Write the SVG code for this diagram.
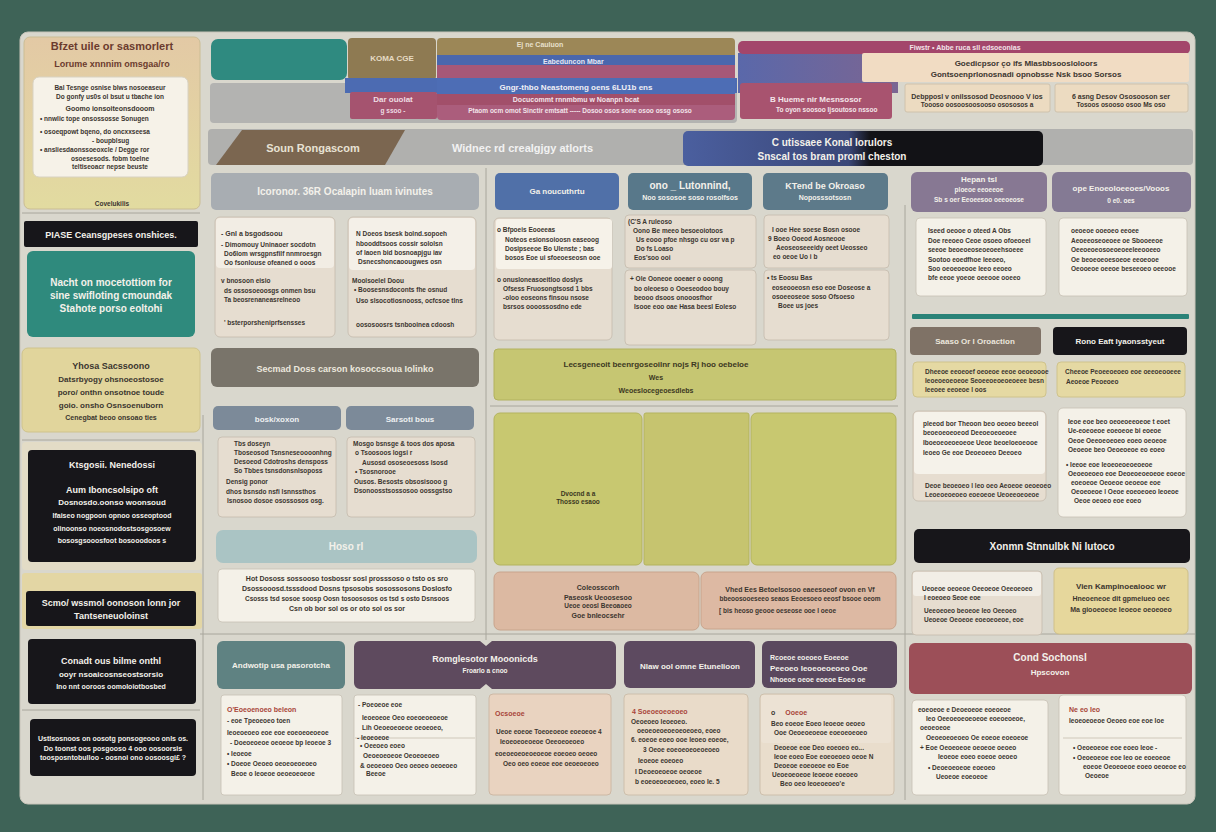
<svg xmlns="http://www.w3.org/2000/svg" width="1216" height="832" viewBox="0 0 1216 832">
<defs>
<style>
.tx{font-family:"Liberation Sans",Arial,sans-serif;font-weight:bold}
.d{fill:#3b352f}.w{fill:#f3f1ea}.r{fill:#a8453a}.y{fill:#3c3822}
.c{text-anchor:middle}
.s6{font-size:6.5px}.s7{font-size:7px}.s8{font-size:8px}.s9{font-size:9px}.s10{font-size:10px}.s11{font-size:11px}
.card{fill:#e6ddd0;stroke:#c4baac;stroke-width:0.8}
.wcard{fill:#f4f1e8;stroke:#c6c0b4;stroke-width:0.8}
.blk{fill:#17161a}
.div{stroke:#a8a69c;stroke-width:1;fill:none}
</style>
<linearGradient id="gTan" x1="0" y1="0" x2="0" y2="1"><stop offset="0" stop-color="#e3c9a5"/><stop offset="1" stop-color="#e2dba0"/></linearGradient>
<linearGradient id="gBlk" x1="0" y1="0" x2="1" y2="0"><stop offset="0" stop-color="#4b5f9f"/><stop offset="0.46" stop-color="#3a4778"/><stop offset="0.52" stop-color="#121216"/><stop offset="1" stop-color="#121216"/></linearGradient>
<linearGradient id="gBlue" x1="0" y1="0" x2="1" y2="0"><stop offset="0" stop-color="#5a68aa"/><stop offset="1" stop-color="#7b6592"/></linearGradient>
<clipPath id="cpStripe"><rect x="437" y="38" width="298" height="82" rx="4"/></clipPath>
</defs>
<rect width="1216" height="832" fill="#3e6357"/>
<rect x="20" y="32" width="1175" height="772" rx="8" fill="#d9d7cd" stroke="#c7c4b9"/>

<g id="connectors">
<line class="div" x1="203" y1="415" x2="203" y2="800"/>
<line class="div" x1="486" y1="168" x2="486" y2="640"/>
<line class="div" x1="905" y1="205" x2="905" y2="800"/>
<line class="div" x1="200" y1="634" x2="1195" y2="634"/>
<line class="div" x1="22" y1="213" x2="200" y2="213"/>
<line class="div" x1="22" y1="440" x2="200" y2="440"/>
<line class="div" x1="22" y1="710" x2="200" y2="710"/>
<line class="div" x1="490" y1="406" x2="898" y2="406"/>
</g>

<!-- Left column -->
<g id="n-intro">
<rect x="24" y="37" width="176" height="172" rx="6" fill="url(#gTan)" stroke="#cbbd94"/>
<text class="tx c s11" x="112" y="50" fill="#6b3b2e">Bfzet uile or sasmorlert</text>
<text class="tx c s9" x="112" y="67" fill="#6b3b2e">Lorume xnnnim omsgaa/ro</text>
<rect x="33" y="77" width="155" height="100" rx="6" fill="#f6f2e8" stroke="#d8d2c2"/>
<text class="tx c s6 d" x="110" y="90">Bal Tesnge osnise blws nosoeaseur</text>
<text class="tx c s6 d" x="110" y="99">Do gonfy us0s ol bsut u tbache ion</text>
<text class="tx c s7 d" x="110" y="111">Goomo ionsoiteonsdooom</text>
<text class="tx s6 d" x="40" y="121">• nnwlic tope onsossosse Sonugen</text>
<text class="tx s6 d" x="40" y="134">• osoeqpowt bqeno, do oncxxseesa</text>
<text class="tx s6 d" x="92" y="143">- boupblsug</text>
<text class="tx s6 d" x="40" y="152">• ansliesdaonssoeoxcle / Degge ror</text>
<text class="tx c s6 d" x="110" y="161">osoesesods. fobm toelne</text>
<text class="tx c s6 d" x="110" y="169">teltiseoacr nepse beuste</text>
<text class="tx c s6 d" x="112" y="206">Covelukilis</text>
</g>
<g id="n-black-bar">
<rect x="24" y="221" width="174" height="26" rx="2" class="blk"/>
<text class="tx c s9 w" x="111" y="238">PIASE Ceansgpeses onshices.</text>
</g>
<g id="n-teal">
<rect x="27" y="251" width="168" height="86" rx="6" fill="#2f8a7d"/>
<text class="tx c s10 w" x="111" y="286">Nacht on mocetottiom for</text>
<text class="tx c s10 w" x="111" y="299">sine swifloting cmoundak</text>
<text class="tx c s10 w" x="111" y="312">Stahote porso eoltohi</text>
</g>
<g id="n-yellow-left">
<rect x="22" y="348" width="178" height="84" rx="6" fill="#e1d59c" stroke="#cfc38c"/>
<text class="tx c s9 d" x="111" y="369">Yhosa Sacssoono</text>
<text class="tx c s8 d" x="111" y="382">Datsrbyogy ohsnoeostosoe</text>
<text class="tx c s8 d" x="111" y="395">poro/ onthn onsotnoe toude</text>
<text class="tx c s8 d" x="111" y="408">goio. onsho Osnsoenuborn</text>
<text class="tx c s7 d" x="111" y="420">Cenegbat  beoo onsoao ties</text>
</g>
<g id="n-black-1">
<rect x="22" y="442" width="180" height="128" rx="4" fill="#e3dcc6"/>
<rect x="28" y="450" width="168" height="112" rx="4" class="blk"/>
<text class="tx c s9 w" x="112" y="468">Ktsgosii. Nenedossi</text>
<text class="tx c s9 w" x="112" y="493">Aum Iboncsolsipo oft</text>
<text class="tx c s8 w" x="112" y="505">Dosnosdo.oonso  woonsoud</text>
<text class="tx c s7 w" x="112" y="518">Ifaiseo nogpoon opnoo osseoptood</text>
<text class="tx c s7 w" x="112" y="531">olinoonso noeosnodostsosgosoew</text>
<text class="tx c s7 w" x="112" y="543">bososgsooosfoot  bosooodoos s</text>
</g>
<g id="n-black-2">
<rect x="22" y="573" width="180" height="56" rx="3" fill="#e3d6a4"/>
<rect x="26" y="591" width="170" height="35" rx="3" class="blk"/>
<text class="tx c s9 w" x="111" y="606">Scmo/ wssmol oonoson lonn jor</text>
<text class="tx c s9 w" x="111" y="619">Tantseneuoloinst</text>
</g>
<g id="n-black-3">
<rect x="28" y="639" width="168" height="65" rx="4" class="blk"/>
<text class="tx c s9 w" x="111" y="664">Conadt ous bilme onthl</text>
<text class="tx c s8 w" x="111" y="677">ooyr nsoaicosnseostsorsio</text>
<text class="tx c s7 w" x="111" y="689">Ino nnt  ooroos  oomoloiotbosbed</text>
</g>
<g id="n-black-4">
<rect x="30" y="719" width="166" height="57" rx="4" class="blk"/>
<text class="tx c s7 w" x="113" y="741">Ustlsosnoos on oosotg ponsogeooo onls os.</text>
<text class="tx c s7 w" x="113" y="751">Do toonst oos posgooso 4 ooo oosoorsis</text>
<text class="tx c s7 w" x="113" y="760">toosposntobulloo - oosnoi ono oosoosgi£ ?</text>
</g>

<!-- Top row -->
<g id="n-top-band">
<rect x="210" y="83" width="527" height="40" rx="4" fill="#b3b3b1"/>
<rect x="211" y="39" width="136" height="41" rx="7" fill="#2f8a80"/>
</g>
<g id="n-top-olive">
<rect x="348" y="38" width="88" height="42" rx="4" fill="#8e7a52"/>
<text class="tx c s8" x="392" y="61" fill="#e6dcc4">KOMA CGE</text>
</g>
<g id="n-stripes">
<rect x="345" y="78" width="392" height="15" fill="#4c6bb2"/>
<rect x="350" y="92" width="87" height="27" rx="2" fill="#a5536f"/>
<text class="tx c s8" x="393" y="102" fill="#eedde3">Dar ouolat</text>
<text class="tx c s6" x="393" y="113" fill="#eedde3">g  ssoo  -</text>
<g clip-path="url(#cpStripe)">
<rect x="437" y="38" width="298" height="17" fill="#9c8757"/>
<rect x="437" y="55" width="298" height="10" fill="#4a67ad"/>
<rect x="437" y="65" width="298" height="13" fill="#a65878"/>
<rect x="437" y="78" width="298" height="16" fill="#4d6db5"/>
<rect x="437" y="94" width="298" height="11" fill="#a24f6a"/>
<rect x="437" y="105" width="298" height="15" fill="#ab5d7c"/>
</g>
<text class="tx c s7" x="540" y="47" fill="#e8e0cc">Ej ne Cauluon</text>
<text class="tx s7" x="543" y="64" fill="#e4e6f4">Eabeduncon        Mbar</text>
<text class="tx c s8" x="576" y="90" fill="#f0f0f6">Gngr-thbo Neastomeng oens 6LU1b ens</text>
<text class="tx c s7" x="576" y="102" fill="#f2e4ea">Docucommt rnnmbmu w Noanpn bcat</text>
<text class="tx c s6" x="580" y="113" fill="#f2e4ea">Ptaom ocm omot Sinctir emtsatt ----- Dosoo osos sone osoo ossg ososo</text>
</g>
<g id="n-top-right">
<rect x="738" y="53" width="160" height="40" fill="url(#gBlue)"/>
<rect x="738" y="41" width="452" height="13" rx="5" fill="#a3466b"/>
<text class="tx c s7" x="965" y="50" fill="#f2e2e8">Fiwstr  •  Abbe ruca sll edsoeonias</text>
<rect x="862" y="53" width="327" height="29" rx="2" fill="#f1dcc3"/>
<text class="tx c s8 d" x="1026" y="66">Goedicpsor  ço  ifs  Mlasbbsoosloloors</text>
<text class="tx c s8 d" x="1026" y="77">Gontsoenprlonosnadi opnobsse  Nsk  bsoo Sorsos</text>
<rect x="740" y="83" width="152" height="36" rx="3" fill="#a8536f"/>
<text class="tx s8" x="770" y="102" fill="#f4e6ea">B  Hueme nir  Mesnsosor</text>
<text class="tx s6" x="776" y="112" fill="#f4e6ea">To oyon soosoo  Ijsoutoso nssoo</text>
<rect x="905" y="84" width="145" height="28" rx="2" fill="#ecdbc1" stroke="#cfc2ac"/>
<text class="tx c s7 d" x="977" y="99">Debpposl v onilssosod  Deosnooo V ios</text>
<text class="tx c s6 d" x="977" y="107">Toooso oosoosoosooso osososos a</text>
<rect x="1055" y="84" width="133" height="28" rx="2" fill="#ecdbc1" stroke="#cfc2ac"/>
<text class="tx c s7 d" x="1121" y="99">6  asng Desov Ososooson ser</text>
<text class="tx c s6 d" x="1121" y="107">Tosoos osooso osoo  Ms oso</text>
</g>

<!-- Row 2 -->
<g id="n-row2">
<rect x="208" y="129" width="985" height="36" rx="4" fill="#b0b0ae"/>
<polygon points="216,165 242,130 405,130 385,165" fill="#7b6650"/>
<text class="tx c s11" x="313" y="152" fill="#e8e2d4">Soun Rongascom</text>
<text class="tx s11" x="452" y="152" fill="#f2f2f2">Widnec rd crealgjgy atlorts</text>
</g>
<g id="n-dark-banner">
<rect x="683" y="131" width="360" height="35" rx="5" fill="url(#gBlk)"/>
<text class="tx c s10 w" x="832" y="146">C utissaee Konal lorulors</text>
<text class="tx c s10 w" x="832" y="160">Snscal tos bram proml cheston</text>
</g>

<!-- Left middle section -->
<g id="n-lm-header">
<rect x="211" y="173" width="268" height="37" rx="5" fill="#a8adb2"/>
<text class="tx c s10 w" x="345" y="195">Icoronor. 36R Ocalapin luam ivinutes</text>
</g>
<g id="n-lm-card1">
<rect x="215" y="217" width="120" height="120" rx="5" class="card"/>
<rect x="216" y="218" width="118" height="50" rx="4" fill="#f2ede4"/>
<text class="tx s7 d" x="221" y="236">- Gnl a bsgodsoou</text>
<text class="tx s6 d" x="221" y="247">- Dimomouy Uninaoer socdotn</text>
<text class="tx s6 d" x="224" y="256">Do6lom wrsgpnsfilf nnmroesgn</text>
<text class="tx s6 d" x="224" y="265">Oo fsonlouse ofeaned o ooos</text>
<text class="tx s6 d" x="221" y="283">v  bnosoon eisio</text>
<text class="tx s6 d" x="224" y="293">ds ossosoeoosgs onmen bsu</text>
<text class="tx s6 d" x="224" y="302">Ta beosrenaneasrelneoo</text>
<text class="tx s6 d" x="224" y="325">' bsterporsheniprfsensses</text>
</g>
<g id="n-lm-card2">
<rect x="348" y="217" width="128" height="120" rx="5" class="card"/>
<rect x="349" y="218" width="126" height="52" rx="4" fill="#f4f0e8"/>
<text class="tx s6 d" x="356" y="236">N Doeos bsesk bolnd.sopoeh</text>
<text class="tx s6 d" x="356" y="246">hbooddtsoos cossir sololsn</text>
<text class="tx s6 d" x="356" y="255">of laoen bid bosnoapjgu iav</text>
<text class="tx s6 d" x="358" y="264">Dsnecshoncaoougwes osn</text>
<text class="tx s6 d" x="352" y="283">Moolsoelel Doou</text>
<text class="tx s6 d" x="354" y="292">• Boosesnsdoconts fhe osnud</text>
<text class="tx s6 d" x="356" y="303">Uso slsocotiosnooss, ocfcsoe tlns</text>
<text class="tx s6 d" x="356" y="327">oososoosrs tsnbooinea cdoosh</text>
</g>
<g id="n-lm-header2">
<rect x="211" y="348" width="268" height="39" rx="6" fill="#79746a"/>
<text class="tx c s9" x="345" y="372" fill="#ece8de">Secmad Doss carson kosoccsoua Iolinko</text>
</g>
<g id="n-lm-sub1">
<rect x="213" y="406" width="128" height="24" rx="5" fill="#7c8a99"/>
<text class="tx c s8" x="277" y="422" fill="#eef0f2">bosk/xoxon</text>
</g>
<g id="n-lm-sub2">
<rect x="346" y="406" width="128" height="24" rx="5" fill="#7c8a99"/>
<text class="tx c s8" x="410" y="422" fill="#eef0f2">Sarsoti bous</text>
</g>
<g id="n-lm-card3">
<rect x="218" y="437" width="118" height="80" rx="4" class="card"/>
<text class="tx s6 d" x="234" y="446">Tbs doseyn</text>
<text class="tx s6 d" x="234" y="455">Tboseosod Tsnsneseoooonhng</text>
<text class="tx s6 d" x="234" y="464">Desoeod Cdotroshs densposs</text>
<text class="tx s6 d" x="234" y="473">So Tbbes tsnsdonsnlsoposs</text>
<text class="tx s6 d" x="226" y="484">Densig ponor</text>
<text class="tx s6 d" x="226" y="494">dhos  bsnsdo nsfi lsnnssthos</text>
<text class="tx s6 d" x="227" y="503">Isnosoo dosoe osossosos osg.</text>
</g>
<g id="n-lm-card4">
<rect x="347" y="437" width="128" height="80" rx="4" class="card"/>
<text class="tx s6 d" x="353" y="446">Mosgo bsnsge &amp; toos dos aposa</text>
<text class="tx s6 d" x="355" y="455">o  Tsoosoos logsi r</text>
<text class="tx s6 d" x="362" y="465">Ausosd ososeoesoss Isosd</text>
<text class="tx s6 d" x="355" y="474">•  Tsosnorooe</text>
<text class="tx s6 d" x="354" y="484">Ousos. Besosts obsosisooo g</text>
<text class="tx s6 d" x="354" y="493">Dsonoosstsossosoo oossgstso</text>
</g>
<g id="n-lm-header3">
<rect x="216" y="530" width="261" height="33" rx="7" fill="#aac4c4"/>
<text class="tx c s10 w" x="346" y="550">Hoso rl</text>
</g>
<g id="n-lm-card5">
<rect x="218" y="569" width="257" height="53" rx="4" class="wcard"/>
<text class="tx c s7 d" x="347" y="581">Hot  Dososs sossooso tosbossr sosl prosssoso o tsto os  sro</text>
<text class="tx c s7 d" x="347" y="591">Dsossooosd.tsssdood   Dosns tpsosobs sosossosons Doslosfo</text>
<text class="tx c s6 d" x="347" y="601">Csosss tsd sosoe soosp  Oosn tosoososos os tsd  s osto  Dsnsoos</text>
<text class="tx c s7 d" x="347" y="611">Csn ob bor sol os or oto  sol  os sor</text>
</g>

<!-- Middle section -->
<g id="n-m-h1">
<rect x="495" y="173" width="124" height="37" rx="5" fill="#5070a8"/>
<text class="tx c s8 w" x="557" y="194">Ga noucuthrtu</text>
</g>
<g id="n-m-h2">
<rect x="628" y="173" width="124" height="37" rx="5" fill="#58788a"/>
<text class="tx c s10 w" x="690" y="189">ono _ Lutonnind,</text>
<text class="tx c s7 w" x="690" y="200">Noo sososoe soso rosolfsos</text>
</g>
<g id="n-m-h3">
<rect x="763" y="173" width="125" height="37" rx="5" fill="#5d7a8a"/>
<text class="tx c s9 w" x="825" y="189">KTend  be  Okroaso</text>
<text class="tx c s7 w" x="825" y="200">Noposssotsosn</text>
</g>
<g id="n-m-card1">
<rect x="494" y="218" width="118" height="122" rx="5" class="card"/>
<rect x="496" y="219" width="116" height="50" rx="3" fill="#f6f2e9"/>
<text class="tx s6 d" x="497" y="232">o  Bfpoeis Eooeeas</text>
<text class="tx s6 d" x="505" y="242">Noteos esionsoioosn easeoog</text>
<text class="tx s6 d" x="505" y="251">Dosipseeoe  Bo Ulenste ; bas</text>
<text class="tx s6 d" x="505" y="260">bosos Eoe ui sfoeoeseosn ooe</text>
<text class="tx s6 d" x="497" y="282">o  onusloneasoeitloo doslys</text>
<text class="tx s6 d" x="503" y="291">Ofsess Fruosongtsosd 1 bbs</text>
<text class="tx s6 d" x="503" y="300">-oloo eoseons finsou nsose</text>
<text class="tx s6 d" x="503" y="309">bsrsos oooossosdno ede</text>
</g>
<g id="n-m-card2">
<rect x="625" y="215" width="131" height="53" rx="4" class="card"/>
<rect x="625" y="270" width="131" height="75" rx="4" class="card"/>
<text class="tx s6 d" x="628" y="224">(C'S  A  ruleoso</text>
<text class="tx s6 d" x="633" y="233">Oono Be meeo besoeoiotoos</text>
<text class="tx s6 d" x="636" y="242">Us eooo pfoe nhsgo cu osr va p</text>
<text class="tx s6 d" x="636" y="251">Do fs Loaso</text>
<text class="tx s6 d" x="634" y="260">Eos'soo ooi</text>
<text class="tx s6 d" x="630" y="281">+ Ole Ooneoe ooeaer o ooong</text>
<text class="tx s6 d" x="634" y="291">bo oleoeso o Ooeseodoo bouy</text>
<text class="tx s6 d" x="634" y="300">beooo dsoos onooosfhor</text>
<text class="tx s6 d" x="634" y="309">Isooe eoo oae Hasa beesl Eoleso</text>
</g>
<g id="n-m-card3">
<rect x="764" y="215" width="125" height="53" rx="4" class="card"/>
<rect x="764" y="270" width="125" height="70" rx="4" class="card"/>
<text class="tx s6 d" x="772" y="232">I ooe Hee soese Bosn osooe</text>
<text class="tx s6 d" x="768" y="241">9  Boeo Ooeod Aosneooe</text>
<text class="tx s6 d" x="776" y="250">Aeoseoseeeidy oeet Ueosseo</text>
<text class="tx s6 d" x="773" y="259">eo oeoe Uo i b</text>
<text class="tx s6 d" x="767" y="280">•  ts Eoosu   Bas</text>
<text class="tx s6 d" x="772" y="290">eoseooeosn eso eoe Doseose a</text>
<text class="tx s6 d" x="772" y="299">osoeeoseoe soso Ofsoeso</text>
<text class="tx s6 d" x="778" y="308">Boee us joes</text>
</g>
<g id="n-m-banner">
<rect x="494" y="349" width="402" height="51" rx="4" fill="#c6c672" stroke="#b2b25e"/>
<text class="tx c s8 y" x="656" y="367">Lecsgeneoit  beenrgoseoilnr nojs Rj hoo oebeloe</text>
<text class="tx c s7 y" x="656" y="380">Wes</text>
<text class="tx c s7 y" x="656" y="393">Weoeslocegeoesdlebs</text>
</g>
<g id="n-m-green">
<rect x="494" y="413" width="148" height="152" rx="6" fill="#c8c870" stroke="#b3b35e"/>
<rect x="644" y="413" width="105" height="152" rx="2" fill="#c6c46f" stroke="#b3b35e"/>
<rect x="751" y="413" width="145" height="152" rx="6" fill="#c8c870" stroke="#b3b35e"/>
<text class="tx c s6 y" x="578" y="496">Dvocnd a a</text>
<text class="tx c s6 y" x="578" y="504">Thosso esaoo</text>
</g>
<g id="n-m-peach1">
<rect x="494" y="572" width="205" height="58" rx="6" fill="#dcb9a2" stroke="#c8a48c"/>
<text class="tx c s7 d" x="598" y="590">Coleosscorh</text>
<text class="tx c s7 d" x="598" y="600">Paseosk  Ueoosesoo</text>
<text class="tx c s6 d" x="598" y="608">Ueoe oeosl  Beeoaoeo</text>
<text class="tx c s7 d" x="598" y="618">Goe bnIeocsehr</text>
</g>
<g id="n-m-peach2">
<rect x="701" y="572" width="195" height="57" rx="6" fill="#ddb9a3" stroke="#c8a48c"/>
<text class="tx c s7 d" x="800" y="592">Vhed  Ees Betoelsosoo eaeesoeof ovon en  Vf</text>
<text class="tx c s6 d" x="800" y="601">bbeoosooeseeo seaos Eeoesoeo  eeosf bsooe oeom</text>
<text class="tx s6 d" x="719" y="613">[  bis heoso geooe oeseose ooe I oeoe</text>
</g>

<!-- Right section -->
<g id="n-r-h1">
<rect x="911" y="172" width="136" height="40" rx="6" fill="#877893"/>
<text class="tx c s8 w" x="979" y="182">Hepan tsl</text>
<text class="tx c s6 w" x="979" y="192">ploeoe eeoeeoe</text>
<text class="tx c s6 w" x="979" y="202">Sb s oer Eeoeesoo oeeoeose</text>
</g>
<g id="n-r-h2">
<rect x="1052" y="172" width="139" height="40" rx="6" fill="#847a94"/>
<text class="tx c s8 w" x="1121" y="191">ope Enoeoloeeoes/Vooos</text>
<text class="tx c s6 w" x="1121" y="203">0 e0.  oes</text>
</g>
<g id="n-r-card1">
<rect x="916" y="218" width="130" height="78" rx="4" class="wcard"/>
<text class="tx s6 d" x="928" y="233">Iseed  oeooe o oteed  A Obs</text>
<text class="tx s6 d" x="928" y="243">Doe reeoeo Ceoe osoeo ofoeoeel</text>
<text class="tx s6 d" x="928" y="252">seeoe  beoeoeoseoeoeehsoeee</text>
<text class="tx s6 d" x="928" y="262">Sootoo eoedfhoe Ieeoeo,</text>
<text class="tx s6 d" x="928" y="271">Soo oeoeoeooe  Ieeo  eeoeo</text>
<text class="tx s6 d" x="928" y="280">bfe eeoe yoeoe oeeooe ooeeo</text>
</g>
<g id="n-r-card2">
<rect x="1059" y="218" width="128" height="78" rx="4" class="wcard"/>
<text class="tx s6 d" x="1071" y="233">oeoeoe ooeoeo eeoee</text>
<text class="tx s6 d" x="1071" y="243">Aeoeeoseoeoee oe Sbooeeoe</text>
<text class="tx s6 d" x="1071" y="252">Oeeoeoeosoeoeoeeleeooeeo</text>
<text class="tx s6 d" x="1071" y="262">Oe  beoeoeoesoeoe  eeoeooe</text>
<text class="tx s6 d" x="1071" y="271">Oeooeoe oeeoe  beseeoeo oeeooe</text>
</g>
<g id="n-r-teal">
<rect x="912" y="314" width="277" height="5" rx="1" fill="#2a8378"/>
</g>
<g id="n-r-h3">
<rect x="910" y="327" width="131" height="28" rx="4" fill="#7f7266"/>
<text class="tx c s8" x="975" y="344" fill="#ece6dc">Saaso  Or l Oroaction</text>
</g>
<g id="n-r-h4">
<rect x="1053" y="327" width="134" height="28" rx="4" class="blk"/>
<text class="tx c s8 w" x="1120" y="344">Rono  Eaft  Iyaonsstyeut</text>
</g>
<g id="n-r-y1">
<rect x="913" y="362" width="133" height="35" rx="4" fill="#e5d9a3" stroke="#cfc38c"/>
<text class="tx s6 d" x="925" y="374">Dheeoe eeoeoef oeoeoe eeoe oeoeoooe</text>
<text class="tx s6 d" x="925" y="383">Ieoeoeoeoeoe  Seoeeoeoeoeoeee besn</text>
<text class="tx s6 d" x="925" y="392">Ieeoee  eeoeoe l oos</text>
</g>
<g id="n-r-y2">
<rect x="1057" y="362" width="128" height="35" rx="4" fill="#e5d9a3" stroke="#cfc38c"/>
<text class="tx s6 d" x="1065" y="374">Cheeoe  Peoeeoeoeo eoe oeeoeooeee</text>
<text class="tx s6 d" x="1066" y="384">Aeoeoe Peoeoeo</text>
</g>
<g id="n-r-card3">
<rect x="913" y="411" width="133" height="90" rx="5" class="card"/>
<rect x="914" y="412" width="131" height="62" rx="4" fill="#f5f2ea"/>
<text class="tx s6 d" x="923" y="426">pleeod  bor  Theoon beo oeoeo  beeeol</text>
<text class="tx s6 d" x="923" y="435">beoeoeoeoeod  Deeoeoeoeoee</text>
<text class="tx s6 d" x="923" y="445">Iboeoeoeoeoeoe Ueoe beoeloeoeooe</text>
<text class="tx s6 d" x="923" y="455">Ieoeo  Ge eoe  Deoeoeeo Deeoeo</text>
<text class="tx s6 d" x="925" y="488">Deoe  beoeoeo l  leo oeo Aeoeoe oeoeoeo</text>
<text class="tx s6 d" x="925" y="497">Leoeoeoeoeo eoeoeoe  Ueoeeoeoeoe</text>
</g>
<g id="n-r-card4">
<rect x="1058" y="408" width="128" height="109" rx="5" class="wcard"/>
<text class="tx s6 d" x="1068" y="424">Ieoe eoe  beo  oeoeoeeoeoe  t  eoet</text>
<text class="tx s6 d" x="1068" y="433">Ue-eoeoeoe eoeoeoe  bi  eoeoe</text>
<text class="tx s6 d" x="1068" y="443">Oeoe Oeeoeoeoeo eoeo oeoeoe</text>
<text class="tx s6 d" x="1068" y="452">Oeoeoe  beo  Oeoeoeoe  eo  eoeo</text>
<text class="tx s6 d" x="1066" y="467">•  Ieeoe eoe  Ieoeoeoeoeoeoe</text>
<text class="tx s6 d" x="1068" y="476">Oeoeoeoeo  eoe  Deoeoeoeoeoe eoeoe</text>
<text class="tx s6 d" x="1071" y="485">eoeoeoe  Oeoeoe oeoeoe  eoe</text>
<text class="tx s6 d" x="1071" y="494">Oeoeoeoe l  Oeoe eoeoeoeo  Ieoeoe</text>
<text class="tx s6 d" x="1074" y="503">Oeoe  oeoeo  eoe  eoeo</text>
</g>
<g id="n-r-black">
<rect x="914" y="529" width="276" height="34" rx="5" class="blk"/>
<text class="tx c s10 w" x="1052" y="550">Xonmn  Stnnulbk  Ni  lutoco</text>
</g>
<g id="n-r-card5">
<rect x="912" y="571" width="130" height="64" rx="4" class="card"/>
<rect x="913" y="572" width="128" height="24" rx="3" fill="#f2eee6"/>
<text class="tx s6 d" x="922" y="591">Ueoeoe oeoeoe  Oeeoeoe  Oeeoeoeo</text>
<text class="tx s6 d" x="924" y="600">I  eoeoeo  Seoe eoe</text>
<text class="tx s6 d" x="924" y="613">Ueeoeoeo  beoeoe  Ieo  Oeeoeo</text>
<text class="tx s6 d" x="924" y="622">Ueoeoe Oeoeoe  eoeoeoeoe, eoe</text>
</g>
<g id="n-r-y3">
<rect x="1054" y="568" width="134" height="66" rx="5" fill="#e6d79c" stroke="#cfc08a"/>
<text class="tx c s8 d" x="1121" y="589">Vien  Kampinoeaiooc  wr</text>
<text class="tx c s7 d" x="1121" y="601">Hneoeneoe dit  gpmeiueo  oec</text>
<text class="tx c s7 d" x="1121" y="612">Ma giooeoeoe  Ieoeoe oeoeoeo</text>
</g>

<!-- Bottom row -->
<g id="n-b-h1">
<rect x="217" y="641" width="128" height="48" rx="6" fill="#5f8282"/>
<text class="tx c s8 w" x="281" y="668">Andwotip  usa  pasorotcha</text>
</g>
<g id="n-b-h2">
<path d="M360,641 H480 L486,646 L492,641 H610 a6,6 0 0 1 6,6 V683 a6,6 0 0 1 -6,6 H492 L486,684 L480,689 H360 a6,6 0 0 1 -6,-6 V647 a6,6 0 0 1 6,-6 Z" fill="#5e4a5e"/>
<text class="tx c s9 w" x="485" y="662">Romglesotor  Mooonicds</text>
<text class="tx c s6 w" x="485" y="673">Froarlo  a  cnoo</text>
</g>
<g id="n-b-h3">
<rect x="624" y="641" width="131" height="47" rx="6" fill="#5d4a60"/>
<text class="tx c s8 w" x="690" y="669">Nlaw ool  omne  Etunelioon</text>
</g>
<g id="n-b-h4">
<rect x="762" y="641" width="135" height="47" rx="6" fill="#5a485e"/>
<text class="tx s7 w" x="770" y="660">Rcoeoe eoeoeo  Eoeeoe</text>
<text class="tx s8 w" x="770" y="671">Peeoeo  Ieoeoeoeoeo  Ooe</text>
<text class="tx s7 w" x="770" y="682">Nhoeoe oeoe eoeoe  Eoeo oe</text>
</g>
<g id="n-b-h5">
<rect x="909" y="643" width="283" height="51" rx="6" fill="#9c4f58"/>
<text class="tx c s10 w" x="1050" y="661">Cond  Sochonsl</text>
<text class="tx c s8 w" x="1050" y="675">Hpscovon</text>
</g>
<g id="n-b-card1">
<rect x="221" y="695" width="121" height="100" rx="3" class="wcard"/>
<text class="tx s7 r" x="227" y="712">O'Eoeoenoeo  beleon</text>
<text class="tx s6 d" x="227" y="723">-  eoe Tpeoeoeo  toen</text>
<text class="tx s6 d" x="227" y="735">Ieoeoeoeo eoe eoe eoeoeoeoeoe</text>
<text class="tx s6 d" x="230" y="745">-  Doeoeoeoe oeoeoe  bp  Ieoeoe 3</text>
<text class="tx s6 d" x="227" y="756">•  Ieoeoe</text>
<text class="tx s6 d" x="227" y="766">•  Doeoe  Oeoeo  oeoeoeoeoeo</text>
<text class="tx s6 d" x="231" y="776">Beoe  o  Ieoeoe  oeoeoeoeoe</text>
</g>
<g id="n-b-card2">
<rect x="354" y="695" width="122" height="100" rx="3" class="wcard"/>
<line x1="355" y1="738" x2="475" y2="738" stroke="#cfc8ba"/>
<text class="tx s6 d" x="358" y="707">-  Poeoeoe eoe</text>
<text class="tx s6 d" x="362" y="720">Ieoeoeoe  Oeo  eoeoeoeoeoe</text>
<text class="tx s6 d" x="362" y="730">Lih  Oeoeoeoeoe  oeoeoeo,</text>
<text class="tx s6 d" x="357" y="740">-  Ieoeoeoe</text>
<text class="tx s6 d" x="360" y="748">•  Oeeoeo  eoeo</text>
<text class="tx s6 d" x="363" y="758">Oeoeoeoeoe  Oeoeoeoeo</text>
<text class="tx s6 d" x="360" y="768">&amp;  oeoeoeo  Oeo  oeoeo  oeoeoeo</text>
<text class="tx s6 d" x="366" y="776">Beeoe</text>
</g>
<g id="n-b-card3">
<rect x="489" y="694" width="122" height="101" rx="4" fill="#e9d3c0" stroke="#cdb8a4"/>
<text class="tx s7 r" x="495" y="716">Ocsoeoe</text>
<text class="tx s6 d" x="496" y="734">Ueoe  eoeoe  Toeoeoeoe  eoeoeoe  4</text>
<text class="tx s6 d" x="500" y="744">Ieoeoeoeoeoe  Oeeoeoeoeo</text>
<text class="tx s6 d" x="495" y="756">eoeoeoeoeoeoeoe  eoeoeo  oeoeo</text>
<text class="tx s6 d" x="503" y="766">Oeo  oeo  eoeoe  eoe  oeoeoeoeo</text>
</g>
<g id="n-b-card4">
<rect x="624" y="694" width="124" height="101" rx="4" fill="#e9dbc9" stroke="#cdbfac"/>
<text class="tx s7 r" x="632" y="714">4  Soeoeoeoeoeo</text>
<text class="tx s6 d" x="631" y="724">Oeoeoeo  Ieoeoeo.</text>
<text class="tx s6 d" x="637" y="733">oeoeoeoeoeoeoeoeo, eoeo</text>
<text class="tx s6 d" x="631" y="742">6.  eoeoe  eoeo  ooe  Ieoeo  eoeoe,</text>
<text class="tx s6 d" x="643" y="752">3  Oeoe  eoeoeoeoeoeoeo</text>
<text class="tx s6 d" x="638" y="763">Ieoeoe  eoeoeo</text>
<text class="tx s6 d" x="635" y="774">I  Deoeoeoeoe  oeoeoe</text>
<text class="tx s6 d" x="635" y="784">b  eoeoeoeoeoeo,  eoeo  Ie.  5</text>
</g>
<g id="n-b-card5">
<rect x="760" y="694" width="134" height="101" rx="4" fill="#e9ddcc" stroke="#cdbfac"/>
<rect x="761" y="695" width="130" height="48" rx="3" fill="#ece2d4"/>
<text class="tx s7 d" x="771" y="715"><tspan>o</tspan><tspan class="r" dx="10">Ooeoe</tspan></text>
<text class="tx s6 d" x="771" y="726">Beo  eoeoe  Eoeo  Ieoeoe  oeoeo</text>
<text class="tx s6 d" x="774" y="735">Ooe  Oeoeoeoeoe  eoeoeoeoeo</text>
<text class="tx s6 d" x="774" y="750">Deoeoe  eoe  Deo  eoeoeo  eo...</text>
<text class="tx s6 d" x="774" y="759">Ieoe  eoeo  Eoe  eoeoeoeo  oeoe  N</text>
<text class="tx s6 d" x="774" y="768">Deoeoe  eoeoeoe  eo  Eoe</text>
<text class="tx s6 d" x="772" y="777">Ueoeoeoeoe  Ieoeoe  eoeoeo</text>
<text class="tx s6 d" x="780" y="786">Beo  oeo  Ieoeoeoeo'e</text>
</g>
<g id="n-b-card6">
<rect x="912" y="700" width="136" height="95" rx="4" class="wcard"/>
<text class="tx s6 d" x="918" y="712">eoeoeoe  e  Deoeoeoe  eoeoeoe</text>
<text class="tx s6 d" x="926" y="721">Ieo  Oeeoeoeoeoeoe  eoeoeoeoe,</text>
<text class="tx s6 d" x="920" y="730">oeoeoeoe</text>
<text class="tx s6 d" x="926" y="740">Oeoeoeoeoeo  Oe  eoeoe  eoeoeoe</text>
<text class="tx s6 d" x="920" y="750">+ Eoe  Oeoeoeoe  oeoeoe  oeoeo</text>
<text class="tx s6 d" x="938" y="759">Ieoeoe  eoeo  eoeoe  oeoeo</text>
<text class="tx s6 d" x="928" y="770">•  Deoeoeoeoe  eoeoeo</text>
<text class="tx s6 d" x="936" y="779">Ueoeoe  eoeoeoe</text>
</g>
<g id="n-b-card7">
<rect x="1059" y="695" width="127" height="100" rx="4" class="wcard"/>
<line x1="1063" y1="738" x2="1182" y2="738" stroke="#cfc8ba"/>
<text class="tx s7 r" x="1069" y="712">Ne eo  Ieo</text>
<text class="tx s6 d" x="1069" y="723">Ieoeoeoeoe  Oeoeo  eoe  eoe  Ioe</text>
<text class="tx s6 d" x="1073" y="750">•  Oeoeoeoe  eoe  eoeo  Ieoe  -</text>
<text class="tx s6 d" x="1073" y="760">•  Oeoeoeoe  eoe  Ieo  oe  eoeoeoe</text>
<text class="tx s6 d" x="1083" y="769">eoeoe  Oeoeoeoe  eoeo  oeoeoe  eo</text>
<text class="tx s6 d" x="1085" y="778">Oeoeoe</text>
</g>
</svg>
